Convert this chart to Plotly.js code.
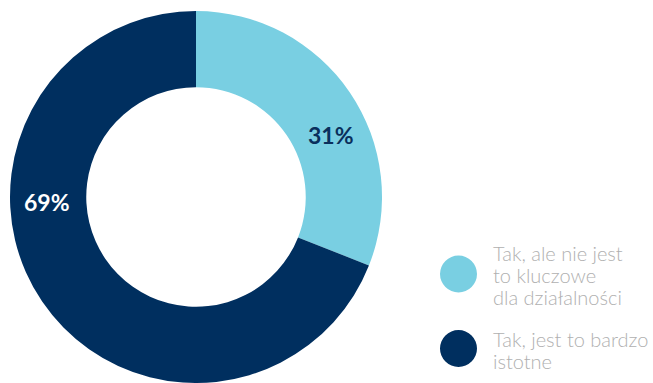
<!DOCTYPE html>
<html>
<head>
<meta charset="utf-8">
<script src="https://cdn.plot.ly/plotly-3.0.1.min.js"></script>
<style>html,body{margin:0;padding:0;background:#fff;}#chart{width:653px;height:383px;}</style>
</head>
<body>
<div id="chart"></div>
<script>
const categories = ['Tak, ale nie jest to kluczowe dla działalności', 'Tak, jest to bardzo istotne'];
const values = [31, 69];
const colors = ['#79CFE2', '#002F5F'];
const legendLines = [['Tak, ale nie jest', 'to kluczowe', 'dla działalności'], ['Tak, jest to bardzo', 'istotne']];
const pctTextColors = ['#0A2F5C', '#ffffff'];

const W = 653, H = 383;
const cx = 196, cy = 197, R = 186;
const px = x => x / W;
const py = y => 1 - y / H;

const trace = {
  type: 'pie',
  labels: categories,
  values: values,
  sort: false,
  direction: 'clockwise',
  rotation: 0,
  hole: 0.59,
  marker: {colors: colors, line: {width: 0}},
  textinfo: 'none',
  hoverinfo: 'none',
  showlegend: false,
  domain: {x: [px(cx - R), px(cx + R)], y: [py(cy + R), py(cy - R)]}
};

const annotations = [];
const pctPos = [[331, 134.5], [46.5, 202]];
values.forEach((v, i) => {
  annotations.push({
    x: px(pctPos[i][0]), y: py(pctPos[i][1]), xref: 'paper', yref: 'paper',
    text: '<b>' + v + '%</b>', showarrow: false, xanchor: 'center', yanchor: 'middle',
    font: {family: 'Lato', size: 23, color: pctTextColors[i]}
  });
});

const legendCircleY = [274, 348.5];
const legendTextY = [[253, 275, 297], [339, 361]];
const shapes = [];
legendLines.forEach((lines, i) => {
  shapes.push({
    type: 'circle', xref: 'paper', yref: 'paper',
    xsizemode: 'pixel', ysizemode: 'pixel',
    xanchor: px(458.5), yanchor: py(legendCircleY[i]),
    x0: -18.5, x1: 18.5, y0: -18.5, y1: 18.5,
    fillcolor: colors[i], line: {width: 0}
  });
  lines.forEach((t, j) => {
    annotations.push({
      x: px(491), y: py(legendTextY[i][j]), xref: 'paper', yref: 'paper',
      text: t, showarrow: false, xanchor: 'left', yanchor: 'middle',
      font: {family: 'Lato Light, Lato', size: 20, color: '#B0B0B0', weight: 300}
    });
  });
});

const layout = {
  width: W, height: H,
  margin: {l: 0, r: 0, t: 0, b: 0},
  paper_bgcolor: '#ffffff',
  plot_bgcolor: '#ffffff',
  showlegend: false,
  annotations: annotations,
  shapes: shapes
};

Plotly.newPlot('chart', [trace], layout, {displayModeBar: false, staticPlot: true});
</script>
</body>
</html>
